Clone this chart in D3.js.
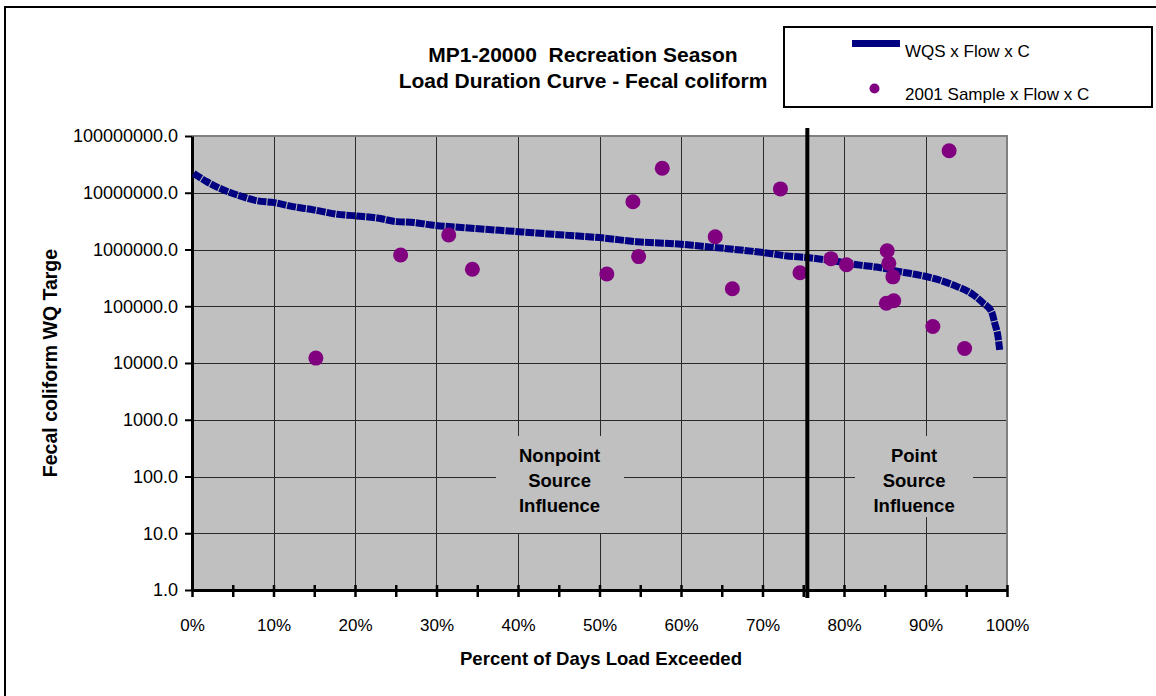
<!DOCTYPE html>
<html>
<head>
<meta charset="utf-8">
<script src="https://cdn.jsdelivr.net/npm/d3@7"></script>
<style>
  html, body { margin: 0; padding: 0; background: #fff; }
  svg { display: block; font-family: "Liberation Sans", Arial, sans-serif; }
</style>
</head>
<body>
<svg id="chart" width="1156" height="696"></svg>
<script>
// Load duration curve: percent of days exceeded vs. allowable load (WQS x Flow x C)
const curvePct  = [0.2, 1.8, 3.4, 5.9, 7.9, 10.1, 12.4, 14.9, 17.7, 20.2, 22.7, 25.1, 27.2, 29.4,
                   33.5, 40.1, 45.6, 50.0, 54.6, 60.0, 62.3, 66.4, 70.2, 73.0, 75.5, 78.7, 82.0,
                   84.0, 86.9, 88.5, 91.0, 93.4, 95.9, 97.1, 98.1, 98.5, 98.9, 99.1];
const curveLoad = [2.2e7, 1.57e7, 1.2e7, 8.8e6, 7.25e6, 6.7e6, 5.7e6, 5.0e6, 4.2e6, 3.9e6, 3.6e6, 3.1e6, 3.0e6, 2.7e6,
                   2.42e6, 2.06e6, 1.8e6, 1.62e6, 1.37e6, 1.24e6, 1.15e6, 1.01e6, 8.8e5, 7.7e5, 7.2e5, 6.3e5, 5.3e5,
                   4.9e5, 4.06e5, 3.7e5, 3.1e5, 2.37e5, 1.58e5, 1.13e5, 8.0e4, 5.0e4, 2.9e4, 1.7e4];

// 2001 samples (sample concentration x flow x conversion)
const samplePct  = [15.2, 25.6, 31.5, 34.4, 50.9, 54.1, 54.8, 57.7, 64.2, 66.3, 72.2, 74.6, 78.4, 80.3,
                    85.3, 85.5, 86.0, 85.2, 86.1, 92.9, 90.9, 94.8];
const sampleLoad = [1.22e4, 8.0e5, 1.8e6, 4.5e5, 3.7e5, 6.95e6, 7.5e5, 2.7e7, 1.68e6, 2.04e5, 1.17e7, 3.9e5, 6.9e5, 5.4e5,
                    9.5e5, 5.7e5, 3.3e5, 1.13e5, 1.25e5, 5.5e7, 4.4e4, 1.8e4];

const yTicks = [1, 10, 100, 1000, 1e4, 1e5, 1e6, 1e7, 1e8];
const xTicks = [0, 10, 20, 30, 40, 50, 60, 70, 80, 90, 100];
const xMinorTicks = [0, 5, 10, 15, 20, 25, 30, 35, 40, 45, 50, 55, 60, 65, 70, 75, 80, 85, 90, 95, 100];
const dividerPct = 75.5;

const titleLines = ["MP1-20000  Recreation Season", "Load Duration Curve - Fecal coliform"];
const legendLabels = ["WQS x Flow x C", "2001 Sample x Flow x C"];
const zoneLabels = [
  {pct: 45.1, lines: ["Nonpoint", "Source", "Influence"]},
  {pct: 88.6, lines: ["Point", "Source", "Influence"]}
];

const svg = d3.select("#chart");
const plot = {left: 192, right: 1007, top: 136, bottom: 590};

const x = d3.scaleLinear().domain([0, 100]).range([plot.left, plot.right]);
const y = d3.scaleLog().domain([1, 1e8]).range([plot.bottom, plot.top]);

// outer chart frame
svg.append("rect").attr("x", 5).attr("y", 7).attr("width", 1200).attr("height", 800)
  .attr("fill", "#fff").attr("stroke", "#000").attr("stroke-width", 2);

// plot area
svg.append("rect").attr("x", plot.left).attr("y", plot.top)
  .attr("width", plot.right - plot.left).attr("height", plot.bottom - plot.top)
  .attr("fill", "#c0c0c0");

// gridlines
const grid = svg.append("g").attr("stroke", "#2a2a2a").attr("stroke-width", 1);
grid.selectAll("line.v").data(xTicks.slice(1, -1)).join("line")
  .attr("x1", d => Math.round(x(d)) + 0.5).attr("x2", d => Math.round(x(d)) + 0.5)
  .attr("y1", plot.top).attr("y2", plot.bottom);
grid.selectAll("line.h").data(yTicks.slice(1, -1)).join("line")
  .attr("x1", plot.left).attr("x2", plot.right)
  .attr("y1", d => Math.round(y(d)) + 0.5).attr("y2", d => Math.round(y(d)) + 0.5);

// plot border (top / right)
svg.append("path")
  .attr("d", `M${plot.left},${plot.top}H${plot.right}V${plot.bottom}`)
  .attr("fill", "none").attr("stroke", "#808080").attr("stroke-width", 2);

// zone label boxes (opaque, hiding gridlines behind the text)
const boxes = [
  {x0: 496, x1: 624, y0: 436, y1: 533},
  {x0: 855, x1: 973, y0: 436, y1: 517}
];
svg.selectAll("rect.zone").data(boxes).join("rect")
  .attr("x", d => d.x0).attr("y", d => d.y0)
  .attr("width", d => d.x1 - d.x0).attr("height", d => d.y1 - d.y0)
  .attr("fill", "#c0c0c0");

zoneLabels.forEach(z => {
  const t = svg.append("text")
    .attr("x", x(z.pct)).attr("y", 462)
    .attr("text-anchor", "middle")
    .attr("font-weight", "bold").attr("font-size", 18.5).attr("fill", "#000");
  z.lines.forEach((l, i) => {
    t.append("tspan").attr("x", x(z.pct)).attr("dy", i === 0 ? 0 : 25).text(l);
  });
});

// y axis
const yAxis = d3.axisLeft(y).tickValues(yTicks).tickFormat(d3.format(".1f"))
  .tickSizeInner(7).tickSizeOuter(0).tickPadding(7);
const gy = svg.append("g").attr("transform", `translate(${plot.left},0)`).call(yAxis);
gy.select(".domain").attr("stroke", "#000").attr("stroke-width", 3);
gy.selectAll(".tick line").attr("stroke", "#000").attr("stroke-width", 2);
gy.selectAll(".tick text").attr("font-size", 18).attr("fill", "#000")
  .attr("font-family", "Liberation Sans, Arial, sans-serif");

// x axis (ticks cross the axis line)
const xAxis = d3.axisBottom(x).tickValues(xMinorTicks)
  .tickFormat(d => (d % 10 === 0 ? d + "%" : ""))
  .tickSizeInner(7).tickSizeOuter(0).tickPadding(22);
const gx = svg.append("g").attr("transform", `translate(0,${plot.bottom})`).call(xAxis);
gx.select(".domain").attr("stroke", "#000").attr("stroke-width", 3);
gx.selectAll(".tick line").attr("stroke", "#000").attr("stroke-width", 2.5).attr("y1", -5);
gx.selectAll(".tick text").attr("font-size", 17).attr("fill", "#000")
  .attr("font-family", "Liberation Sans, Arial, sans-serif");

// allowable load curve
const line = d3.line().x(d => x(d[0])).y(d => y(d[1])).curve(d3.curveMonotoneX);
svg.append("path")
  .datum(curvePct.map((p, i) => [p, curveLoad[i]]))
  .attr("d", line)
  .attr("fill", "none").attr("stroke", "#000080").attr("stroke-width", 7)
  .attr("stroke-dasharray", "9 1");

// sample points
svg.selectAll("circle.sample").data(samplePct.map((p, i) => [p, sampleLoad[i]])).join("circle")
  .attr("class", "sample")
  .attr("cx", d => x(d[0])).attr("cy", d => y(d[1])).attr("r", 7.5)
  .attr("fill", "#800080");

// divider between nonpoint and point source zones
svg.append("line")
  .attr("x1", x(dividerPct)).attr("x2", x(dividerPct))
  .attr("y1", 128).attr("y2", 598)
  .attr("stroke", "#000").attr("stroke-width", 4);

// title
const title = svg.append("text").attr("text-anchor", "middle")
  .attr("font-weight", "bold").attr("font-size", 21).attr("fill", "#000")
  .style("white-space", "pre");
titleLines.forEach((l, i) => {
  title.append("tspan").attr("x", 583).attr("y", 62 + i * 26).text(l);
});

// axis titles
svg.append("text").attr("x", 601).attr("y", 665).attr("text-anchor", "middle")
  .attr("font-weight", "bold").attr("font-size", 18.6).text("Percent of Days Load Exceeded");
svg.append("text").attr("transform", "translate(57,363) rotate(-90)").attr("text-anchor", "middle")
  .attr("font-weight", "bold").attr("font-size", 19.5).text("Fecal coliform WQ Targe");

// legend
const lg = svg.append("g");
lg.append("rect").attr("x", 784).attr("y", 27).attr("width", 368).attr("height", 80)
  .attr("fill", "#fff").attr("stroke", "#000").attr("stroke-width", 2);
lg.append("line").attr("x1", 852).attr("x2", 900).attr("y1", 43.5).attr("y2", 43.5)
  .attr("stroke", "#000080").attr("stroke-width", 7);
lg.append("circle").attr("cx", 874.5).attr("cy", 88.5).attr("r", 5).attr("fill", "#800080");
lg.append("text").attr("x", 905).attr("y", 57).attr("font-size", 17).text(legendLabels[0]);
lg.append("text").attr("x", 905).attr("y", 99.5).attr("font-size", 17).text(legendLabels[1]);
</script>
</body>
</html>
